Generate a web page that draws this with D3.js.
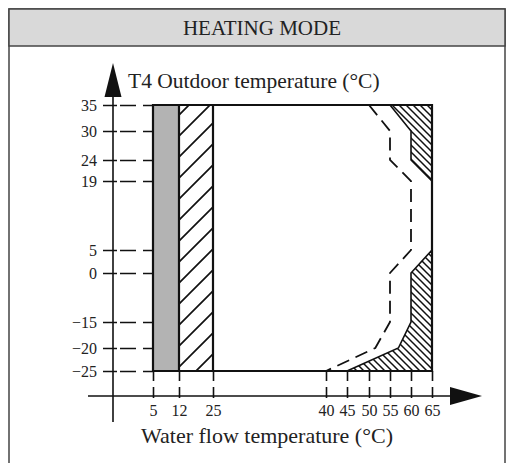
<!DOCTYPE html>
<html><head><meta charset="utf-8">
<script src="https://cdn.jsdelivr.net/npm/d3@7"></script>
<style>
body{margin:0;background:#fff}
svg{display:block}
text{font-family:"Liberation Serif","DejaVu Serif",serif;fill:#222}
</style>
</head><body><svg id="c" width="514" height="463"></svg>
<script>
// ---- data ----
const chartTitle = "HEATING MODE";
const xTitle = "Water flow temperature (°C)";
const yTitle = "T4 Outdoor temperature (°C)";
const xTicks = [5, 12, 25, 40, 45, 50, 55, 60, 65];
const xTickLabels = ["5", "12", "25", "40", "45", "50", "55", "60", "65"];
const yTicks = [35, 30, 24, 19, 5, 0, -15, -20, -25];
const yTickLabels = ["35", "30", "24", "19", "5", "0", "−15", "−20", "−25"];
const greyBand = [5, 12];
const hatchBand = [12, 25];
const envelope = [[5, 35], [65, 35], [65, -25], [5, -25]];
const topRightZone = [[55, 35], [60, 30], [60, 24], [65, 19], [65, 35]];
const bottomRightZone = [[45, -25], [57, -20], [60, -15], [60, 0], [65, 5], [65, -25]];
const dashedBoundary = [[50, 35], [55, 30], [55, 24], [60, 19], [60, 5], [55, 0], [55, -15], [51.5, -20], [40, -25]];

// ---- layout ----
const svg = d3.select("#c");
const AX = 113, AY = 396;
// schematic (non-uniform) axes
const x = d3.scaleLinear().domain(xTicks).range([153, 179, 213, 326, 347, 369, 390, 411, 432]);
const y = d3.scaleLinear().domain(yTicks).range([105, 131, 160, 181, 250, 273, 322, 348, 371]);

const defs = svg.append("defs");
const pw = defs.append("pattern").attr("id", "hWide").attr("patternUnits", "userSpaceOnUse")
  .attr("width", 21).attr("height", 21);
pw.append("path").attr("d", "M0,21 L21,0 M-2,2 L2,-2 M19,23 L23,19")
  .attr("stroke", "#111").attr("stroke-width", 1.7);
const pf = defs.append("pattern").attr("id", "hFine").attr("patternUnits", "userSpaceOnUse")
  .attr("width", 7).attr("height", 7);
pf.append("path").attr("d", "M0,0 L7,7 M-1,6 L1,8 M6,-1 L8,1")
  .attr("stroke", "#111").attr("stroke-width", 1.5);

// panel frame
svg.append("rect").attr("x", 9).attr("y", 9).attr("width", 496).attr("height", 470)
  .attr("fill", "none").attr("stroke", "#444").attr("stroke-width", 1.5);
svg.append("rect").attr("x", 9).attr("y", 9).attr("width", 496).attr("height", 37)
  .attr("fill", "#d9d9d9").attr("stroke", "#444").attr("stroke-width", 1.5);
svg.append("text").attr("x", 262).attr("y", 35).attr("text-anchor", "middle")
  .attr("font-size", 21).text(chartTitle);

// grey band
svg.append("rect").attr("x", x(greyBand[0])).attr("y", y(35))
  .attr("width", x(greyBand[1]) - x(greyBand[0])).attr("height", y(-25) - y(35))
  .attr("fill", "#b3b3b3");
// hatched band
svg.append("rect").attr("x", x(hatchBand[0])).attr("y", y(35))
  .attr("width", x(hatchBand[1]) - x(hatchBand[0])).attr("height", y(-25) - y(35))
  .attr("fill", "url(#hWide)");

const line = d3.line().x(d => x(d[0])).y(d => y(d[1]));
[topRightZone, bottomRightZone].forEach(z => {
  svg.append("path").attr("d", line(z) + "Z").attr("fill", "url(#hFine)")
    .attr("stroke", "#111").attr("stroke-width", 1.6).attr("stroke-linejoin", "miter");
});
svg.append("path").attr("d", line(dashedBoundary)).attr("fill", "none")
  .attr("stroke", "#111").attr("stroke-width", 1.8).attr("stroke-dasharray", "13,7");

// envelope outline and band edges
svg.append("path").attr("d", line(envelope) + "Z").attr("fill", "none")
  .attr("stroke", "#111").attr("stroke-width", 2.2);
[greyBand[1], hatchBand[1]].forEach(v => {
  svg.append("line").attr("x1", x(v)).attr("x2", x(v)).attr("y1", y(35)).attr("y2", y(-25))
    .attr("stroke", "#111").attr("stroke-width", 2.2);
});

// axes
const yAxis = d3.axisLeft(y).tickValues(yTicks).tickFormat((d, i) => yTickLabels[i])
  .tickSizeInner(-(x(5) - AX)).tickSizeOuter(0).tickPadding(16);
const gy = svg.append("g").attr("transform", `translate(${AX},0)`).call(yAxis);
gy.select(".domain").remove();
gy.selectAll(".tick line").attr("x1", -10).attr("stroke", "#111").attr("stroke-width", 1.6)
  .attr("stroke-dasharray", "14,3,16,7,10");
gy.selectAll(".tick text").attr("font-size", 16).attr("font-family", "Liberation Serif, serif").attr("fill", "#2a2a2a");

const xAxis = d3.axisBottom(x).tickValues(xTicks).tickFormat((d, i) => xTickLabels[i])
  .tickSizeInner(-(AY - y(-25))).tickSizeOuter(0).tickPadding(9);
const gx = svg.append("g").attr("transform", `translate(0,${AY})`).call(xAxis);
gx.select(".domain").remove();
gx.selectAll(".tick line").attr("y1", 2).attr("stroke", "#111").attr("stroke-width", 1.6)
  .attr("stroke-dasharray", "11,6,10");
gx.selectAll(".tick text").attr("font-size", 16).attr("font-family", "Liberation Serif, serif").attr("fill", "#2a2a2a");

// axis lines with arrows
svg.append("line").attr("x1", AX).attr("x2", AX).attr("y1", 80).attr("y2", 422)
  .attr("stroke", "#111").attr("stroke-width", 1.6);
svg.append("path").attr("d", `M${AX},63 L${AX - 8.5},97 L${AX + 8.5},97Z`).attr("fill", "#111");
svg.append("line").attr("x1", 88).attr("x2", 460).attr("y1", AY).attr("y2", AY)
  .attr("stroke", "#111").attr("stroke-width", 1.6);
svg.append("path").attr("d", `M482,${AY} L450,${AY - 9} L450,${AY + 9}Z`).attr("fill", "#111");

svg.append("text").attr("x", 128).attr("y", 88).attr("font-size", 21.5).text(yTitle);
svg.append("text").attr("x", 267).attr("y", 443).attr("text-anchor", "middle")
  .attr("font-size", 22).text(xTitle);
</script>
</body></html>
